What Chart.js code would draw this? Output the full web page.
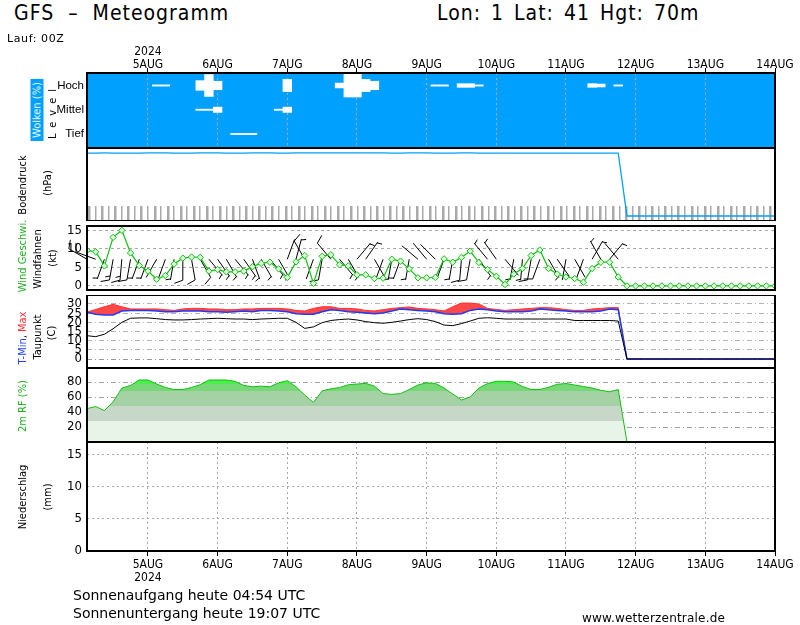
<!DOCTYPE html>
<html>
<head>
<meta charset="utf-8">
<title>GFS Meteogramm</title>
<script src="https://cdn.jsdelivr.net/npm/chart.js@4.4.1/dist/chart.umd.min.js"></script>
<style>
    body { margin: 0; background: #fff; }
    #page { position: relative; width: 800px; height: 625px; overflow: hidden;
            font-family: 'DejaVu Sans Condensed', 'DejaVu Sans', sans-serif; color: #000; }
    #page canvas { position: absolute; left: 0; }
    .txt { position: absolute; white-space: nowrap; line-height: 1; }
    .vert { position: absolute; white-space: nowrap; line-height: 1; font-size: 11px;
            transform: translate(-50%, -50%) rotate(-90deg); }
</style>
</head>
<body>
<div id="page">
    <canvas id="cCloud" width="800" height="108" style="top:40px"></canvas>
    <canvas id="cPress" width="800" height="73" style="top:148px"></canvas>
    <canvas id="cWind" width="800" height="74" style="top:221px"></canvas>
    <canvas id="cTemp" width="800" height="73" style="top:295px"></canvas>
    <canvas id="cRh" width="800" height="74" style="top:368px"></canvas>
    <canvas id="cPrec" width="800" height="150" style="top:442px"></canvas>

    <div class="txt" style="left:14px;top:3px;font-size:21px;letter-spacing:1px;">GFS &nbsp;&ndash;&nbsp; Meteogramm</div>
    <div class="txt" style="left:437px;top:3px;font-size:21px;letter-spacing:1px;word-spacing:3px;">Lon: 1 Lat: 41 Hgt: 70m</div>
    <div class="txt" style="left:7px;top:33px;font-size:11px;font-family:'DejaVu Sans';letter-spacing:0.6px;">Lauf: 00Z</div>

    <!-- left side titles -->
    <div class="vert" style="left:37px;top:110px;color:#fff;background:#00a0ff;padding:1px 3px;">Wolken (%)</div>
    <div class="vert" style="left:52px;top:111px;letter-spacing:6px;">Level</div>
    <div class="vert" style="left:22px;top:185px;">Bodendruck</div>
    <div class="vert" style="left:47px;top:183px;">(hPa)</div>
    <div class="vert" style="left:22px;top:256px;color:#20b020;">Wind Geschwi.</div>
    <div class="vert" style="left:37px;top:259px;">Windfahnen</div>
    <div class="vert" style="left:52px;top:258px;">(kt)</div>
    <div class="vert" style="left:22px;top:338px;"><span style="color:#2040ff">T-Min</span>, <span style="color:#ff3030">Max</span></div>
    <div class="vert" style="left:37px;top:337px;">Taupunkt</div>
    <div class="vert" style="left:51px;top:333px;">(C)</div>
    <div class="vert" style="left:22px;top:406px;color:#20b020;">2m RF (%)</div>
    <div class="vert" style="left:22px;top:497px;">Niederschlag</div>
    <div class="vert" style="left:47px;top:497px;">(mm)</div>

    <div class="txt" style="left:73px;top:588px;font-size:14px;font-family:'DejaVu Sans';">Sonnenaufgang heute 04:54 UTC</div>
    <div class="txt" style="left:73px;top:606px;font-size:14px;font-family:'DejaVu Sans';">Sonnenuntergang heute 19:07 UTC</div>
    <div class="txt" style="left:582px;top:612px;font-size:12px;font-family:'DejaVu Sans';letter-spacing:0.2px;">www.wetterzentrale.de</div>
</div>

<script>
// forecast hours since 4AUG 00Z
const hours = [3, 6, 9, 12, 15, 18, 21, 24, 27, 30, 33, 36, 39, 42, 45, 48, 51, 54, 57, 60,
    63, 66, 69, 72, 75, 78, 81, 84, 87, 90, 93, 96, 99, 102, 105, 108, 111, 114, 117, 120,
    123, 126, 129, 132, 135, 138, 141, 144, 147, 150, 153, 156, 159, 162, 165, 168, 171, 174, 177, 180,
    183, 186, 189, 192, 195, 198, 201, 204, 207, 210, 213, 216, 219, 222, 225, 228, 231, 234, 237, 240];

const dayHours = [24, 48, 72, 96, 120, 144, 168, 192, 216, 240];
const dayLabels = ['5AUG', '6AUG', '7AUG', '8AUG', '9AUG', '10AUG', '11AUG', '12AUG', '13AUG', '14AUG'];
const yearLabel = '2024';

const cloudLevels = ['Tief', 'Mittel', 'Hoch'];

// cloud cover (%) per level
const cloudHigh = [0, 0, 0, 0, 0, 0, 0, 0, 5, 5, 0, 0, 0, 40, 90, 35, 0, 0, 0, 0,
    0, 0, 0, 50, 0, 0, 0, 0, 0, 20, 95, 95, 50, 35, 0, 0, 0, 0, 0, 0,
    5, 5, 0, 15, 15, 5, 0, 0, 0, 0, 0, 0, 0, 0, 0, 0, 0, 0, 15, 12,
    0, 5, 0, 0, 0, 0, 0, 0, 0, 0, 0, 0, 0, 0, 0, 0, 0, 0, 0, 0];
const cloudMid = [0, 0, 0, 0, 0, 0, 0, 0, 0, 0, 0, 0, 0, 5, 5, 22, 0, 0, 0, 0,
    0, 0, 5, 22, 0, 0, 0, 0, 0, 0, 0, 0, 0, 0, 0, 0, 0, 0, 0, 0,
    0, 0, 0, 0, 0, 0, 0, 0, 0, 0, 0, 0, 0, 0, 0, 0, 0, 0, 0, 0,
    0, 0, 0, 0, 0, 0, 0, 0, 0, 0, 0, 0, 0, 0, 0, 0, 0, 0, 0, 0];
const cloudLow = [0, 0, 0, 0, 0, 0, 0, 0, 0, 0, 0, 0, 0, 0, 0, 0, 0, 5, 5, 5,
    0, 0, 0, 0, 0, 0, 0, 0, 0, 0, 0, 0, 0, 0, 0, 0, 0, 0, 0, 0,
    0, 0, 0, 0, 0, 0, 0, 0, 0, 0, 0, 0, 0, 0, 0, 0, 0, 0, 0, 0,
    0, 0, 0, 0, 0, 0, 0, 0, 0, 0, 0, 0, 0, 0, 0, 0, 0, 0, 0, 0];

const pressure = [1015, 1015, 1016, 1015, 1014, 1014, 1015, 1016, 1016, 1016,
    1015, 1015, 1015, 1016, 1016, 1016, 1015, 1015, 1015, 1016,
    1016, 1016, 1015, 1015, 1016, 1016, 1017, 1016, 1016, 1016,
    1016, 1016, 1017, 1016, 1016, 1015, 1015, 1016, 1016, 1016,
    1015, 1015, 1015, 1016, 1016, 1015, 1015, 1014, 1015, 1015,
    1015, 1014, 1014, 1015, 1015, 1015, 1014, 1014, 1014, 1015,
    1015, 1015, 0, 0, 0, 0, 0, 0, 0, 0, 0, 0, 0, 0, 0, 0, 0, 0, 0, 0];

// wind speed (kt) and direction (deg, from)
const windSpeed = [9.6, 9.2, 5.4, 13.1, 15.0, 8.9, 5.5, 4.0, 1.8, 2.8,
    5.9, 7.5, 7.8, 7.7, 4.0, 4.4, 3.8, 3.8, 4.0, 5.2,
    6.1, 6.4, 4.6, 2.3, 6.5, 8.2, 0.7, 8.0, 8.4, 5.7,
    5.4, 3.0, 3.0, 2.0, 2.1, 7.2, 6.7, 4.6, 2.2, 2.2,
    2.3, 7.3, 6.4, 7.7, 9.4, 6.3, 4.4, 2.6, 0.4, 3.2,
    4.7, 8.2, 9.7, 4.7, 3.2, 2.4, 2.0, 1.0, 4.7, 6.4,
    6.4, 2.4, 0, 0, 0, 0, 0, 0, 0, 0, 0, 0, 0, 0, 0, 0, 0, 0, 0, 0];
const windDir = [300, 290, 200, 190, 185, 190, 200, 200, 210, 200,
    190, 180, 170, 150, 140, 145, 150, 140, 145, 160,
    150, 140, 150, 20, 15, 330, 200, 190, 320, 140,
    150, 40, 35, 150, 200, 190, 200, 190, 310, 320,
    315, 200, 190, 185, 190, 145, 320, 325, 140, 190,
    185, 190, 200, 150, 145, 190, 150, 200, 30, 330,
    40, 320, null, null, null, null, null, null, null, null,
    null, null, null, null, null, null, null, null, null, null];

const tMax = [25.5, 27.0, 28.5, 29.8, 28.5, 27.3, 27.3, 27.3, 27.3, 26.9,
    26.5, 27.3, 27.6, 27.6, 27.3, 27.3, 26.9, 26.9, 27.3, 27.3,
    27.6, 27.6, 27.6, 27.3, 26.5, 26.2, 27.6, 28.5, 28.5, 27.6,
    27.6, 27.3, 26.5, 26.2, 26.9, 27.6, 28.0, 28.4, 27.6, 27.3,
    26.9, 26.2, 28.5, 30.5, 30.5, 30.0, 27.6, 27.0, 26.5, 26.9,
    27.3, 27.6, 28.0, 28.0, 27.6, 26.9, 26.5, 26.5, 27.3, 27.6,
    28.0, 28.0, 0, 0, 0, 0, 0, 0, 0, 0, 0, 0, 0, 0, 0, 0, 0, 0, 0, 0];
const tMin = [25.5, 24.4, 24.0, 24.0, 26.2, 26.5, 26.5, 26.5, 26.2, 25.8,
    25.8, 26.2, 26.2, 26.2, 25.8, 25.8, 25.5, 25.8, 26.2, 25.8,
    26.5, 26.5, 26.2, 25.8, 24.7, 24.4, 24.4, 25.8, 26.9, 26.5,
    25.8, 25.5, 25.1, 24.7, 25.1, 26.2, 27.3, 26.9, 26.5, 26.2,
    25.8, 24.7, 24.4, 24.7, 26.5, 27.3, 26.9, 26.2, 25.8, 25.8,
    25.8, 26.2, 27.3, 26.9, 26.5, 26.2, 25.8, 25.8, 25.8, 26.2,
    27.3, 26.9, 0, 0, 0, 0, 0, 0, 0, 0, 0, 0, 0, 0, 0, 0, 0, 0, 0, 0];
const dewPoint = [12.7, 12.2, 13.5, 16.5, 20.0, 22.2, 22.4, 22.4, 22.0, 21.5,
    21.3, 21.3, 21.5, 21.8, 22.0, 22.2, 22.0, 21.8, 21.8, 21.5,
    21.8, 22.0, 22.2, 22.2, 20.0, 16.7, 17.5, 19.8, 21.0, 21.5,
    21.8, 21.3, 20.4, 19.8, 19.5, 20.0, 20.7, 21.5, 22.0, 21.5,
    20.4, 18.5, 18.2, 19.3, 20.7, 22.2, 22.5, 22.2, 21.8, 21.8,
    21.8, 21.8, 21.8, 21.8, 21.8, 21.8, 21.0, 21.0, 21.0, 21.0,
    21.0, 20.7, 0, 0, 0, 0, 0, 0, 0, 0, 0, 0, 0, 0, 0, 0, 0, 0, 0, 0];

const relHum = [44.5, 47.3, 41.8, 53.6, 71.8, 75.5, 82.7, 82.7, 77.3, 72.7,
    70.0, 70.0, 72.7, 76.4, 82.7, 82.7, 82.7, 80.9, 75.5, 73.6,
    74.5, 73.6, 79.0, 81.8, 73.6, 62.7, 52.7, 68.2, 70.9, 72.7,
    76.4, 77.3, 78.2, 74.5, 64.5, 63.6, 64.5, 70.0, 76.0, 79.0,
    78.0, 72.0, 64.0, 56.0, 60.0, 72.0, 78.0, 81.0, 81.0, 80.0,
    74.0, 70.0, 70.0, 73.0, 77.0, 78.0, 76.0, 74.0, 72.0, 69.0,
    67.0, 70.0, 0, 0, 0, 0, 0, 0, 0, 0, 0, 0, 0, 0, 0, 0, 0, 0, 0, 0];

const precip = [0, 0, 0, 0, 0, 0, 0, 0, 0, 0, 0, 0, 0, 0, 0, 0, 0, 0, 0, 0,
    0, 0, 0, 0, 0, 0, 0, 0, 0, 0, 0, 0, 0, 0, 0, 0, 0, 0, 0, 0,
    0, 0, 0, 0, 0, 0, 0, 0, 0, 0, 0, 0, 0, 0, 0, 0, 0, 0, 0, 0,
    0, 0, 0, 0, 0, 0, 0, 0, 0, 0, 0, 0, 0, 0, 0, 0, 0, 0, 0, 0];

// RH band limits (%) and fill colours, bottom to top
const rhBandLimits = [28, 48, 68, 78];
const rhBandColors = ['#e9f4e9', '#c8d8c8', '#a5d2a5', '#78d878', '#4cee4c'];

const CLOUD_BLUE = '#00a0ff';
const BARB_BASE_KT = 7.2;

Chart.defaults.font.family = "'DejaVu Sans Condensed', 'DejaVu Sans', sans-serif";
Chart.defaults.font.size = 12;
Chart.defaults.color = '#000';
Chart.defaults.animation = false;
Chart.defaults.plugins.legend.display = false;
Chart.defaults.plugins.tooltip.enabled = false;

function points(arr) {
    return hours.map((h, i) => ({ x: h, y: arr[i] }));
}

function fixLeft(scale) {
    scale.width = 87;
    scale.paddingTop = 0;
    scale.paddingBottom = 0;
}

function fixedTicks(values) {
    return s => { s.ticks = values.map(v => ({ value: v })); };
}

const hiddenX = { type: 'linear', min: 3, max: 240, display: false, offset: false };

function dayAxis(position, height) {
    return {
        type: 'linear', min: 3, max: 240, position: position, z: 1, offset: false,
        afterBuildTicks: fixedTicks(dayHours),
        afterFit: s => { s.height = height; s.paddingLeft = 0; s.paddingRight = 0; },
        ticks: {
            autoSkip: false, maxRotation: 0, minRotation: 0,
            padding: position === 'top' ? -3 : 3,
            font: { size: 12, lineHeight: 1.05 },
            callback: function(value) {
                const k = dayHours.indexOf(value);
                if (k < 0) return '';
                if (k === 0) {
                    return position === 'top' ? [yearLabel, dayLabels[0]] : [dayLabels[0], yearLabel];
                }
                return dayLabels[k];
            }
        },
        grid: { color: '#a8a8a8', lineWidth: 1, offset: false, drawTicks: true, tickLength: 5,
                tickColor: '#000', tickWidth: 1, tickBorderDash: [] },
        border: { display: false, dash: [2, 3] }
    };
}

// thick black frame round every panel
const panelBorder = {
    id: 'panelBorder',
    afterDraw(chart) {
        const { ctx, chartArea: a } = chart;
        ctx.save();
        ctx.strokeStyle = '#000';
        ctx.lineWidth = 2;
        ctx.strokeRect(a.left, a.top, a.right - a.left, a.bottom - a.top);
        ctx.restore();
    }
};

const cloudBackground = {
    id: 'cloudBackground',
    beforeDraw(chart) {
        const { ctx, chartArea: a } = chart;
        ctx.save();
        ctx.fillStyle = CLOUD_BLUE;
        ctx.fillRect(a.left, a.top, a.right - a.left, a.bottom - a.top);
        ctx.restore();
    }
};

// grey hatching along the bottom of the pressure panel
const pressureHatch = {
    id: 'pressureHatch',
    beforeDatasetsDraw(chart) {
        const { ctx, chartArea: a } = chart;
        ctx.save();
        ctx.fillStyle = '#aaaaaa';
        let k = 0;
        for (let px = a.left + 1; px < a.right - 1; px += 6.55, k++) {
            ctx.fillRect(Math.round(px), a.bottom - 15, k % 2 ? 1.5 : 2.5, 14);
        }
        ctx.restore();
    }
};

// wind barbs drawn from windSpeed / windDir
const windBarbs = {
    id: 'windBarbs',
    beforeDatasetsDraw(chart) {
        const { ctx, scales } = chart;
        const y0 = scales.y.getPixelForValue(BARB_BASE_KT);
        const staff = 21;
        ctx.save();
        ctx.strokeStyle = '#000';
        ctx.lineWidth = 1;
        hours.forEach((h, i) => {
            const s = windSpeed[i];
            const d = windDir[i];
            if (!s || d === null) return;
            const px = scales.x.getPixelForValue(h);
            const a = d * Math.PI / 180;
            const dx = Math.sin(a), dy = -Math.cos(a);
            const ex = px + dx * staff, ey = y0 + dy * staff;
            ctx.beginPath();
            ctx.moveTo(px, y0);
            ctx.lineTo(ex, ey);
            const fa = a + 70 * Math.PI / 180;
            const fx = Math.sin(fa), fy = -Math.cos(fa);
            let rest = Math.round(s / 5) * 5;
            let pos = 0;
            while (rest >= 10) {
                const bx = ex - dx * pos, by = ey - dy * pos;
                ctx.moveTo(bx, by);
                ctx.lineTo(bx + fx * 9, by + fy * 9);
                rest -= 10;
                pos += 3;
            }
            if (rest >= 5) {
                const bx = ex - dx * (pos + 1), by = ey - dy * (pos + 1);
                ctx.moveTo(bx, by);
                ctx.lineTo(bx + fx * 5, by + fy * 5);
            }
            ctx.stroke();
        });
        ctx.restore();
    }
};

const baseOptions = {
    responsive: false,
    layout: { padding: { left: 0, right: 25, top: 0, bottom: 0 } }
};

// ---- clouds
function cloudDataset(cover, level) {
    return {
        type: 'bar',
        data: hours.map((h, i) => ({
            x: h,
            y: cover[i] > 0 ? [level - cover[i] / 200, level + cover[i] / 200] : null
        })),
        backgroundColor: '#ffffff',
        borderWidth: 0,
        grouped: false,
        barPercentage: 1,
        categoryPercentage: 1
    };
}

new Chart(document.getElementById('cCloud'), {
    type: 'bar',
    data: {
        datasets: [cloudDataset(cloudLow, 1), cloudDataset(cloudMid, 2), cloudDataset(cloudHigh, 3)]
    },
    options: Object.assign({}, baseOptions, {
        scales: {
            x: dayAxis('top', 33),
            y: {
                type: 'linear', min: 0.423, max: 3.515,
                afterFit: fixLeft,
                afterBuildTicks: fixedTicks([1, 2, 3]),
                ticks: { padding: 3, autoSkip: false, font: { family: "'Liberation Sans', sans-serif", size: 11.5 },
                         callback: v => cloudLevels[v - 1] },
                grid: { display: false, drawTicks: false },
                border: { display: false }
            }
        }
    }),
    plugins: [cloudBackground, panelBorder]
});

// ---- pressure
new Chart(document.getElementById('cPress'), {
    type: 'line',
    data: {
        datasets: [{
            data: points(pressure),
            borderColor: '#00a0ff', borderWidth: 1.3, pointRadius: 0, fill: false
        }]
    },
    options: Object.assign({}, baseOptions, {
        scales: {
            x: hiddenX,
            y: {
                min: -80.6, max: 1096,
                afterFit: fixLeft,
                ticks: { display: false },
                grid: { display: false },
                border: { display: false }
            }
        }
    }),
    plugins: [pressureHatch, panelBorder]
});

// ---- wind
new Chart(document.getElementById('cWind'), {
    type: 'line',
    data: {
        datasets: [{
            data: points(windSpeed),
            borderColor: '#10c010', borderWidth: 1.2,
            pointStyle: 'rectRot', pointRadius: 3.2, pointBorderWidth: 1,
            pointBorderColor: '#10c010', pointBackgroundColor: '#dcffdc',
            fill: false
        }]
    },
    options: Object.assign({}, baseOptions, {
        scales: {
            x: hiddenX,
            y: {
                min: -1.1, max: 16.17,
                afterFit: fixLeft,
                afterBuildTicks: fixedTicks([0, 5, 10, 15]),
                ticks: { padding: 5, autoSkip: false, font: { size: 13 } },
                grid: { color: '#aaaaaa', drawTicks: false },
                border: { display: false, dash: [3, 3] }
            }
        }
    }),
    plugins: [windBarbs, panelBorder]
});

// ---- temperature
new Chart(document.getElementById('cTemp'), {
    type: 'line',
    data: {
        datasets: [
            { data: points(tMax), borderColor: '#ff3030', borderWidth: 1, backgroundColor: '#ff4848',
              fill: { target: 1 }, pointRadius: 0, order: 3 },
            { data: points(tMin), borderColor: '#1a3cff', borderWidth: 1.5, pointRadius: 0, fill: false, order: 2 },
            { data: points(dewPoint), borderColor: '#000000', borderWidth: 1, pointRadius: 0, fill: false, order: 1 }
        ]
    },
    options: Object.assign({}, baseOptions, {
        scales: {
            x: hiddenX,
            y: {
                min: -4.9, max: 34.9,
                afterFit: fixLeft,
                afterBuildTicks: fixedTicks([0, 5, 10, 15, 20, 25, 30]),
                ticks: { padding: 5, autoSkip: false, font: { size: 13 } },
                grid: { color: ctx => ctx.tick && ctx.tick.value === 0 ? '#999999' : '#b4b4b4', drawTicks: false },
                border: { display: false, dash: [5, 3, 1, 3] }
            }
        }
    }),
    plugins: [panelBorder]
});

// ---- relative humidity
function rhFill(context) {
    const chart = context.chart;
    if (!chart.chartArea) return 'rgba(0,0,0,0)';
    const y = chart.scales.y;
    const g = chart.ctx.createLinearGradient(0, y.getPixelForValue(0), 0, y.getPixelForValue(100));
    g.addColorStop(0, rhBandColors[0]);
    rhBandLimits.forEach((lim, k) => {
        g.addColorStop(lim / 100, rhBandColors[k]);
        g.addColorStop(lim / 100, rhBandColors[k + 1]);
    });
    g.addColorStop(1, rhBandColors[rhBandColors.length - 1]);
    return g;
}

new Chart(document.getElementById('cRh'), {
    type: 'line',
    data: {
        datasets: [{
            data: points(relHum),
            borderColor: '#10c010', borderWidth: 1, pointRadius: 0,
            fill: 'origin', backgroundColor: rhFill
        }]
    },
    options: Object.assign({}, baseOptions, {
        scales: {
            x: hiddenX,
            y: {
                min: 0, max: 98.7, z: 1,
                afterFit: fixLeft,
                afterBuildTicks: fixedTicks([20, 40, 60, 80]),
                ticks: { padding: 5, autoSkip: false, font: { size: 13 } },
                grid: { color: '#a0a0a0', drawTicks: false },
                border: { display: false, dash: [5, 3, 1, 3] }
            }
        }
    }),
    plugins: [panelBorder]
});

// ---- precipitation
new Chart(document.getElementById('cPrec'), {
    type: 'bar',
    data: {
        datasets: [{
            data: points(precip),
            backgroundColor: '#00a0ff', borderWidth: 0,
            barPercentage: 1, categoryPercentage: 1
        }]
    },
    options: Object.assign({}, baseOptions, {
        scales: {
            x: dayAxis('bottom', 41),
            y: {
                min: 0, max: 17,
                afterFit: fixLeft,
                afterBuildTicks: fixedTicks([0, 5, 10, 15]),
                ticks: { padding: 5, autoSkip: false, font: { size: 13 } },
                grid: { color: '#a8a8a8', drawTicks: false },
                border: { display: false, dash: [2, 3] }
            }
        }
    }),
    plugins: [panelBorder]
});
</script>
</body>
</html>
